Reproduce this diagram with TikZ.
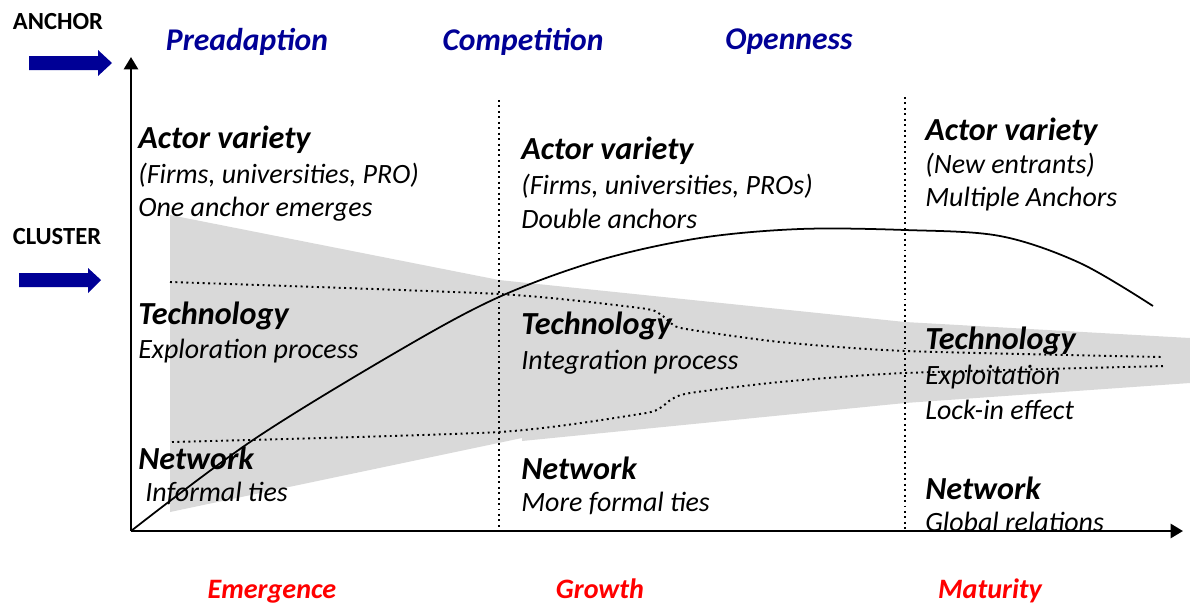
\documentclass[tikz,border=0pt]{standalone}
\usepackage{fontspec}
\setmainfont{Carlito}
\usetikzlibrary{arrows.meta}
\definecolor{phaseblue}{RGB}{0,0,150}
\definecolor{stagered}{RGB}{255,0,0}
\definecolor{funnelgray}{RGB}{217,217,217}
\tikzset{
  heading/.style={anchor=west, inner sep=0pt, font=\fontsize{18.3}{20}\selectfont\bfseries\itshape},
  detail/.style={anchor=west, inner sep=0pt, font=\fontsize{15.9}{18}\selectfont\itshape},
  phase/.style={inner sep=0pt, text=phaseblue, font=\fontsize{18}{20}\selectfont\bfseries\itshape},
  stage/.style={anchor=base, inner sep=0pt, text=stagered, font=\fontsize{16}{18}\selectfont\bfseries\itshape},
  level/.style={inner sep=0pt, font=\fontsize{14}{16}\selectfont\bfseries},
  axis/.style={line width=1.3pt, -{Triangle[length=7pt,width=8pt]}},
  guide/.style={dotted, line width=1.1pt},
}
\begin{document}
\begin{tikzpicture}[x=0.02cm, y=-0.02cm]
\useasboundingbox (0,0) rectangle (1190,603);
% funnel
\fill[funnelgray] (170,215) -- (499,280) -- (905,322) -- (1190,338) -- (1190,383) -- (905,403) -- (522,441) -- (522,438) -- (170,512) -- cycle;
\draw[guide] plot[smooth, tension=0.4] coordinates {(170,282) (499,294) (640,308) (660,314) (672,324) (686,329) (780,342) (905,351) (1162,357)};
\draw[guide] plot[smooth, tension=0.4] coordinates {(172,442) (499,432) (640,414) (660,408) (672,399) (690,393) (780,382) (905,373) (1165,366)};
% phase borders
\coordinate (b1top) at (499,100);
\coordinate (b1bot) at (499,531);
\coordinate (b2top) at (905,97);
\coordinate (b2bot) at (905,531);
\draw[guide] (b1top) -- (b1bot);
\draw[guide] (b2top) -- (b2bot);
% life cycle
\draw[line width=1pt] plot[smooth, tension=0.55] coordinates {(131,531) (253,440) (400,350) (499,297) (600,260) (700,238) (800,229) (905,230) (1000,236) (1080,263) (1153,306)};
% axes
\coordinate (origin) at (131,531);
\coordinate (ytip) at (131,57);
\coordinate (xtip) at (1183,531);
\draw[axis] (origin) -- (ytip);
\draw[axis] (origin) -- (xtip);
% side labels
\node[level] (anchor) at (58,22) {ANCHOR};
\node[level] (cluster) at (57,237) {CLUSTER};
\fill[phaseblue] (29,56) -- (98,56) -- (98,50) -- (112,63) -- (98,76) -- (98,70) -- (29,70) -- cycle;
\fill[phaseblue] (19,273) -- (88,273) -- (88,268) -- (101,280) -- (88,293) -- (88,287) -- (19,287) -- cycle;
% phases
\node[phase] (pre) at (247,42) {Preadaption};
\node[phase] (comp) at (523,42) {Competition};
\node[phase] (open) at (789,42) {Openness};
% emergence
\node[heading] (actorA) at (138,140) {Actor variety};
\node[detail] (firmsA) at (138,175) {(Firms, universities, PRO)};
\node[detail] (oneA) at (138,209) {One anchor emerges};
\node[heading] (techA) at (138,316) {Technology};
\node[detail] (explA) at (138,351) {Exploration process};
\node[heading] (netA) at (138,458) {Network};
\node[detail] (tiesA) at (145,493) {Informal ties};
% growth
\node[heading] (actorB) at (521,151) {Actor variety};
\node[detail] (firmsB) at (521,186) {(Firms, universities, PROs)};
\node[detail] (twoB) at (521,219) {Double anchors};
\node[heading] (techB) at (521,326) {Technology};
\node[detail] (integB) at (521,362) {Integration process};
\node[heading] (netB) at (521,468) {Network};
\node[detail] (tiesB) at (521,503) {More formal ties};
% maturity
\node[heading] (actorC) at (925,132) {Actor variety};
\node[detail] (newC) at (925,165) {(New entrants)};
\node[detail] (multiC) at (925,199) {Multiple Anchors};
\node[heading] (techC) at (925,341) {Technology};
\node[detail] (exploitC) at (925,377) {Exploitation};
\node[detail] (lockC) at (925,410) {Lock-in effect};
\node[heading] (netC) at (925,488) {Network};
\node[detail] (globalC) at (925,522) {Global relations};
% stages
\node[stage] (emerg) at (272,598) {Emergence};
\node[stage] (grow) at (600,598) {Growth};
\node[stage] (mat) at (990,598) {Maturity};
\end{tikzpicture}
\end{document}
